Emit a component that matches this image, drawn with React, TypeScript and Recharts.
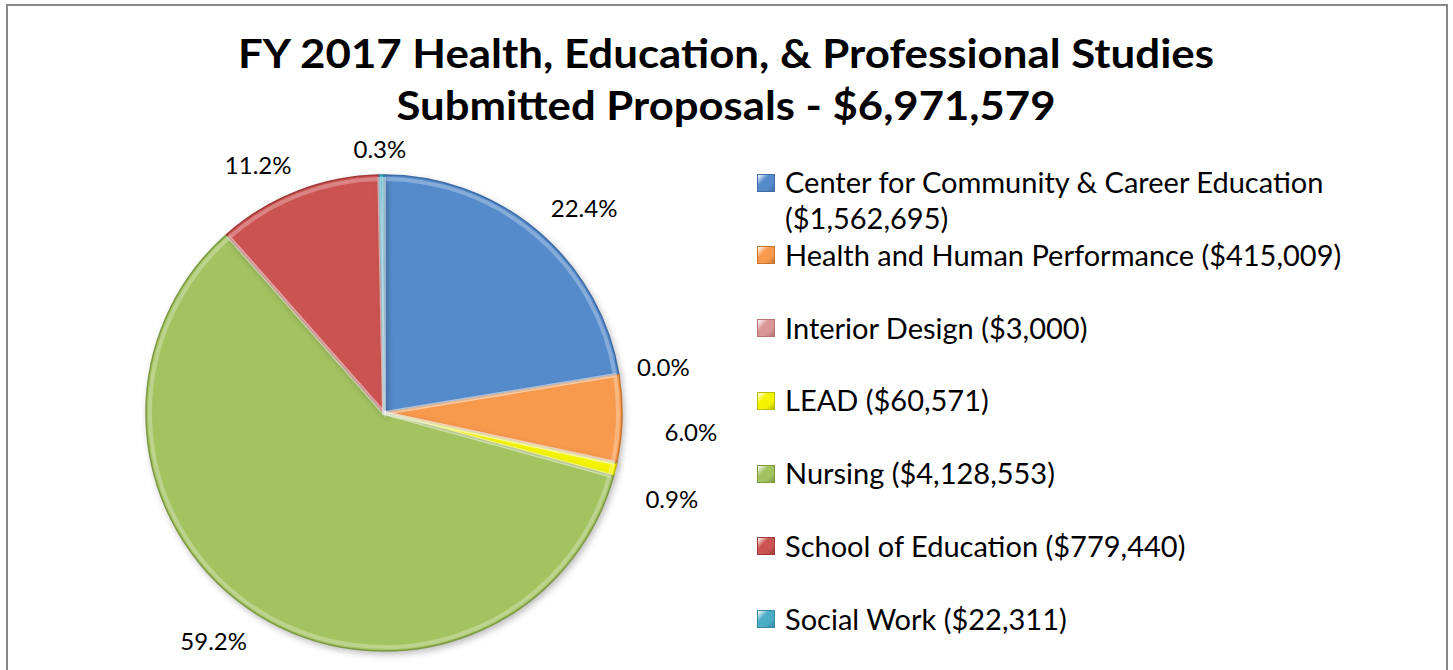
import { PieChart, Pie, Legend } from 'recharts';

const departments = [
  'Center for Community & Career Education',
  'Health and Human Performance',
  'Interior Design',
  'LEAD',
  'Nursing',
  'School of Education',
  'Social Work',
];

const amounts = [1562695, 415009, 3000, 60571, 4128553, 779440, 22311];

const colors = ['#568BCB', '#F89A4E', '#D99694', '#F4F400', '#A3C361', '#CB5452', '#4BACC6'];
const edges = ['#3F6EA8', '#C9752F', '#B57472', '#BDBD00', '#7C9A42', '#A03B39', '#3589A2'];

// label tweaks where Excel's best fit moved the small right-hand labels
const labelNudge: Record<string, [number, number]> = {
  'Health and Human Performance': [19, 11],
  'Interior Design': [-3, -111],
  LEAD: [7, 14],
};

const total = amounts.reduce((a, b) => a + b, 0);
const data = departments.map((name, i) => ({ name, value: amounts[i], fill: colors[i], stroke: edges[i] }));
const bevel = departments.map((name, i) => ({ name, value: amounts[i] }));

const money = (v: number) => '$' + v.toLocaleString('en-US');
const FONT = 'Lato, "Open Sans", sans-serif';
const RAD = Math.PI / 180;

function renderLabel(props: any) {
  const { cx, cy, midAngle, outerRadius, index } = props;
  const item = data[index];
  const w = 80;
  const h = 34;
  const cos = Math.cos(-midAngle * RAD);
  const sin = Math.sin(-midAngle * RAD);
  const r = outerRadius + 10;
  let x = cx + r * cos + (w / 2) * Math.tanh(cos * 4);
  let y = cy + r * sin + (h / 2) * Math.tanh(sin * 4);
  const nudge = labelNudge[item.name];
  if (nudge) {
    x += nudge[0];
    y += nudge[1];
  }
  return (
    <text x={x} y={y} textAnchor="middle" dominantBaseline="central" fontFamily={FONT} fontSize={24} fill="#000">
      {((item.value / total) * 100).toFixed(1)}%
    </text>
  );
}

function renderLegend() {
  return (
    <div style={{ fontFamily: FONT, fontSize: 29, color: '#000' }}>
      {data.map((d) => (
        <div key={d.name} style={{ position: 'relative', height: 72.8 }}>
          <span
            style={{
              position: 'absolute',
              left: 0,
              top: 9.5,
              width: 16,
              height: 16,
              background: `linear-gradient(135deg, #fff8 0%, ${d.fill} 35%, ${d.fill} 70%, ${d.stroke} 100%)`,
              border: `1px solid ${d.stroke}`,
            }}
          />
          <div style={{ position: 'absolute', left: 28, top: 0, width: 640, lineHeight: '36.4px' }}>
            {d.name} ({money(d.value)})
          </div>
        </div>
      ))}
    </div>
  );
}

export default function App() {
  return (
    <div style={{ position: 'relative', width: 1453, height: 670, overflow: 'hidden', background: '#fff' }}>
      <style>{'body{margin:0}'}</style>
      <div
        style={{
          position: 'absolute',
          left: 6,
          top: 4,
          width: 1442,
          height: 720,
          border: '2px solid #888',
          boxSizing: 'border-box',
        }}
      />
      <PieChart width={1453} height={670} style={{ position: 'absolute', left: 0, top: 0 }}>
        <Pie
          data={data}
          dataKey="value"
          nameKey="name"
          cx={379}
          cy={408}
          outerRadius={238}
          startAngle={90}
          endAngle={-270}
          strokeWidth={1.5}
          label={renderLabel}
          labelLine={false}
          isAnimationActive={false}
          style={{ filter: 'drop-shadow(2px 3px 3px rgba(0,0,0,0.25))' }}
        />
        <Pie
          data={bevel}
          dataKey="value"
          nameKey="name"
          cx={379}
          cy={408}
          outerRadius={234}
          startAngle={90}
          endAngle={-270}
          fill="none"
          stroke="rgba(255,255,255,0.28)"
          strokeWidth={4}
          legendType="none"
          isAnimationActive={false}
        />
        <Legend
          layout="vertical"
          content={renderLegend}
          wrapperStyle={{ position: 'absolute', left: 757, top: 164, width: 690 }}
        />
      </PieChart>
      <svg width={1453} height={160} style={{ position: 'absolute', left: 0, top: 0, pointerEvents: 'none' }}>
        <text x={726} y={68} textAnchor="middle" fontFamily={FONT} fontWeight={700} fontSize={41} textLength={976} lengthAdjust="spacingAndGlyphs">
          FY 2017 Health, Education, &amp; Professional Studies
        </text>
        <text x={726} y={120} textAnchor="middle" fontFamily={FONT} fontWeight={700} fontSize={41} textLength={659} lengthAdjust="spacingAndGlyphs">
          Submitted Proposals - {money(total)}
        </text>
      </svg>
    </div>
  );
}
